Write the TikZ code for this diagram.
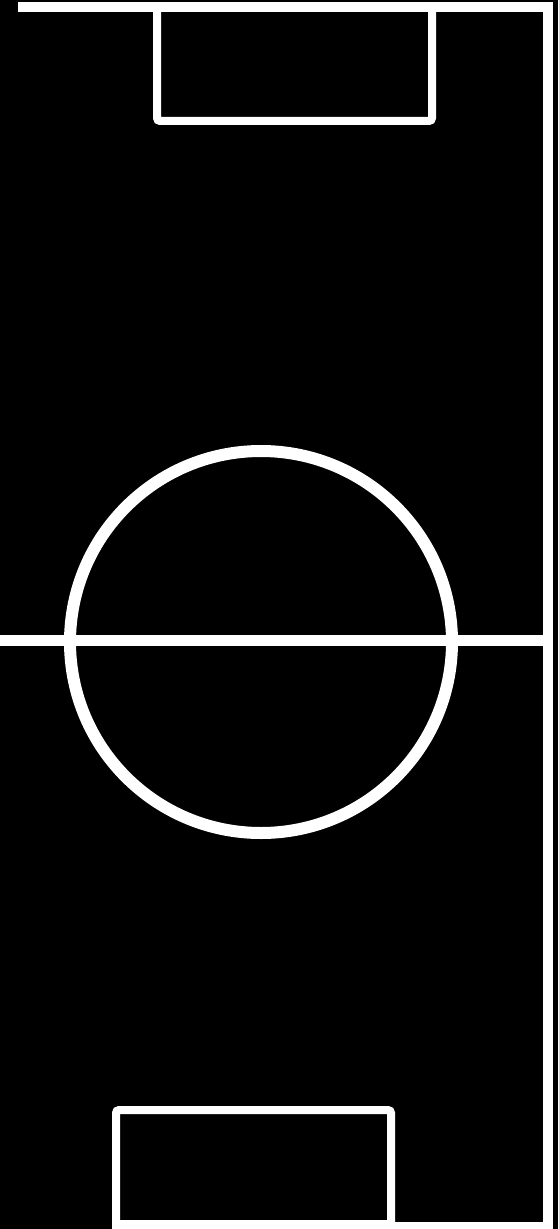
\documentclass[tikz,border=0pt]{standalone}
\begin{document}
\begin{tikzpicture}[x=0.5pt,y=-0.5pt,
  pitchline/.style={draw=white,line width=5pt},
  boxline/.style={draw=white,line width=4pt,rounded corners=1.5pt},
  circleline/.style={draw=white,line width=6pt}]
\fill[black] (0,0) rectangle (558,1229);
\useasboundingbox (0,0) rectangle (558,1229);
% touchline (top) and right line
\draw[pitchline] (18,7) -- (553,7);
\draw[pitchline] (548,2) -- (548,1229);
% bottom line
\draw[boxline,line width=4pt] (112,1226) -- (553,1226);
% halfway line
\draw[pitchline,line width=5.5pt] (0,640.5) -- (548,640.5);
% centre circle
\draw[circleline] (261,642) circle[radius=95.5pt];
% top goal area
\draw[boxline] (157,7) -- (157,121) -- (432,121) -- (432,7);
% bottom goal area
\draw[boxline] (116,1110) rectangle (391,1224);
\end{tikzpicture}
\end{document}
